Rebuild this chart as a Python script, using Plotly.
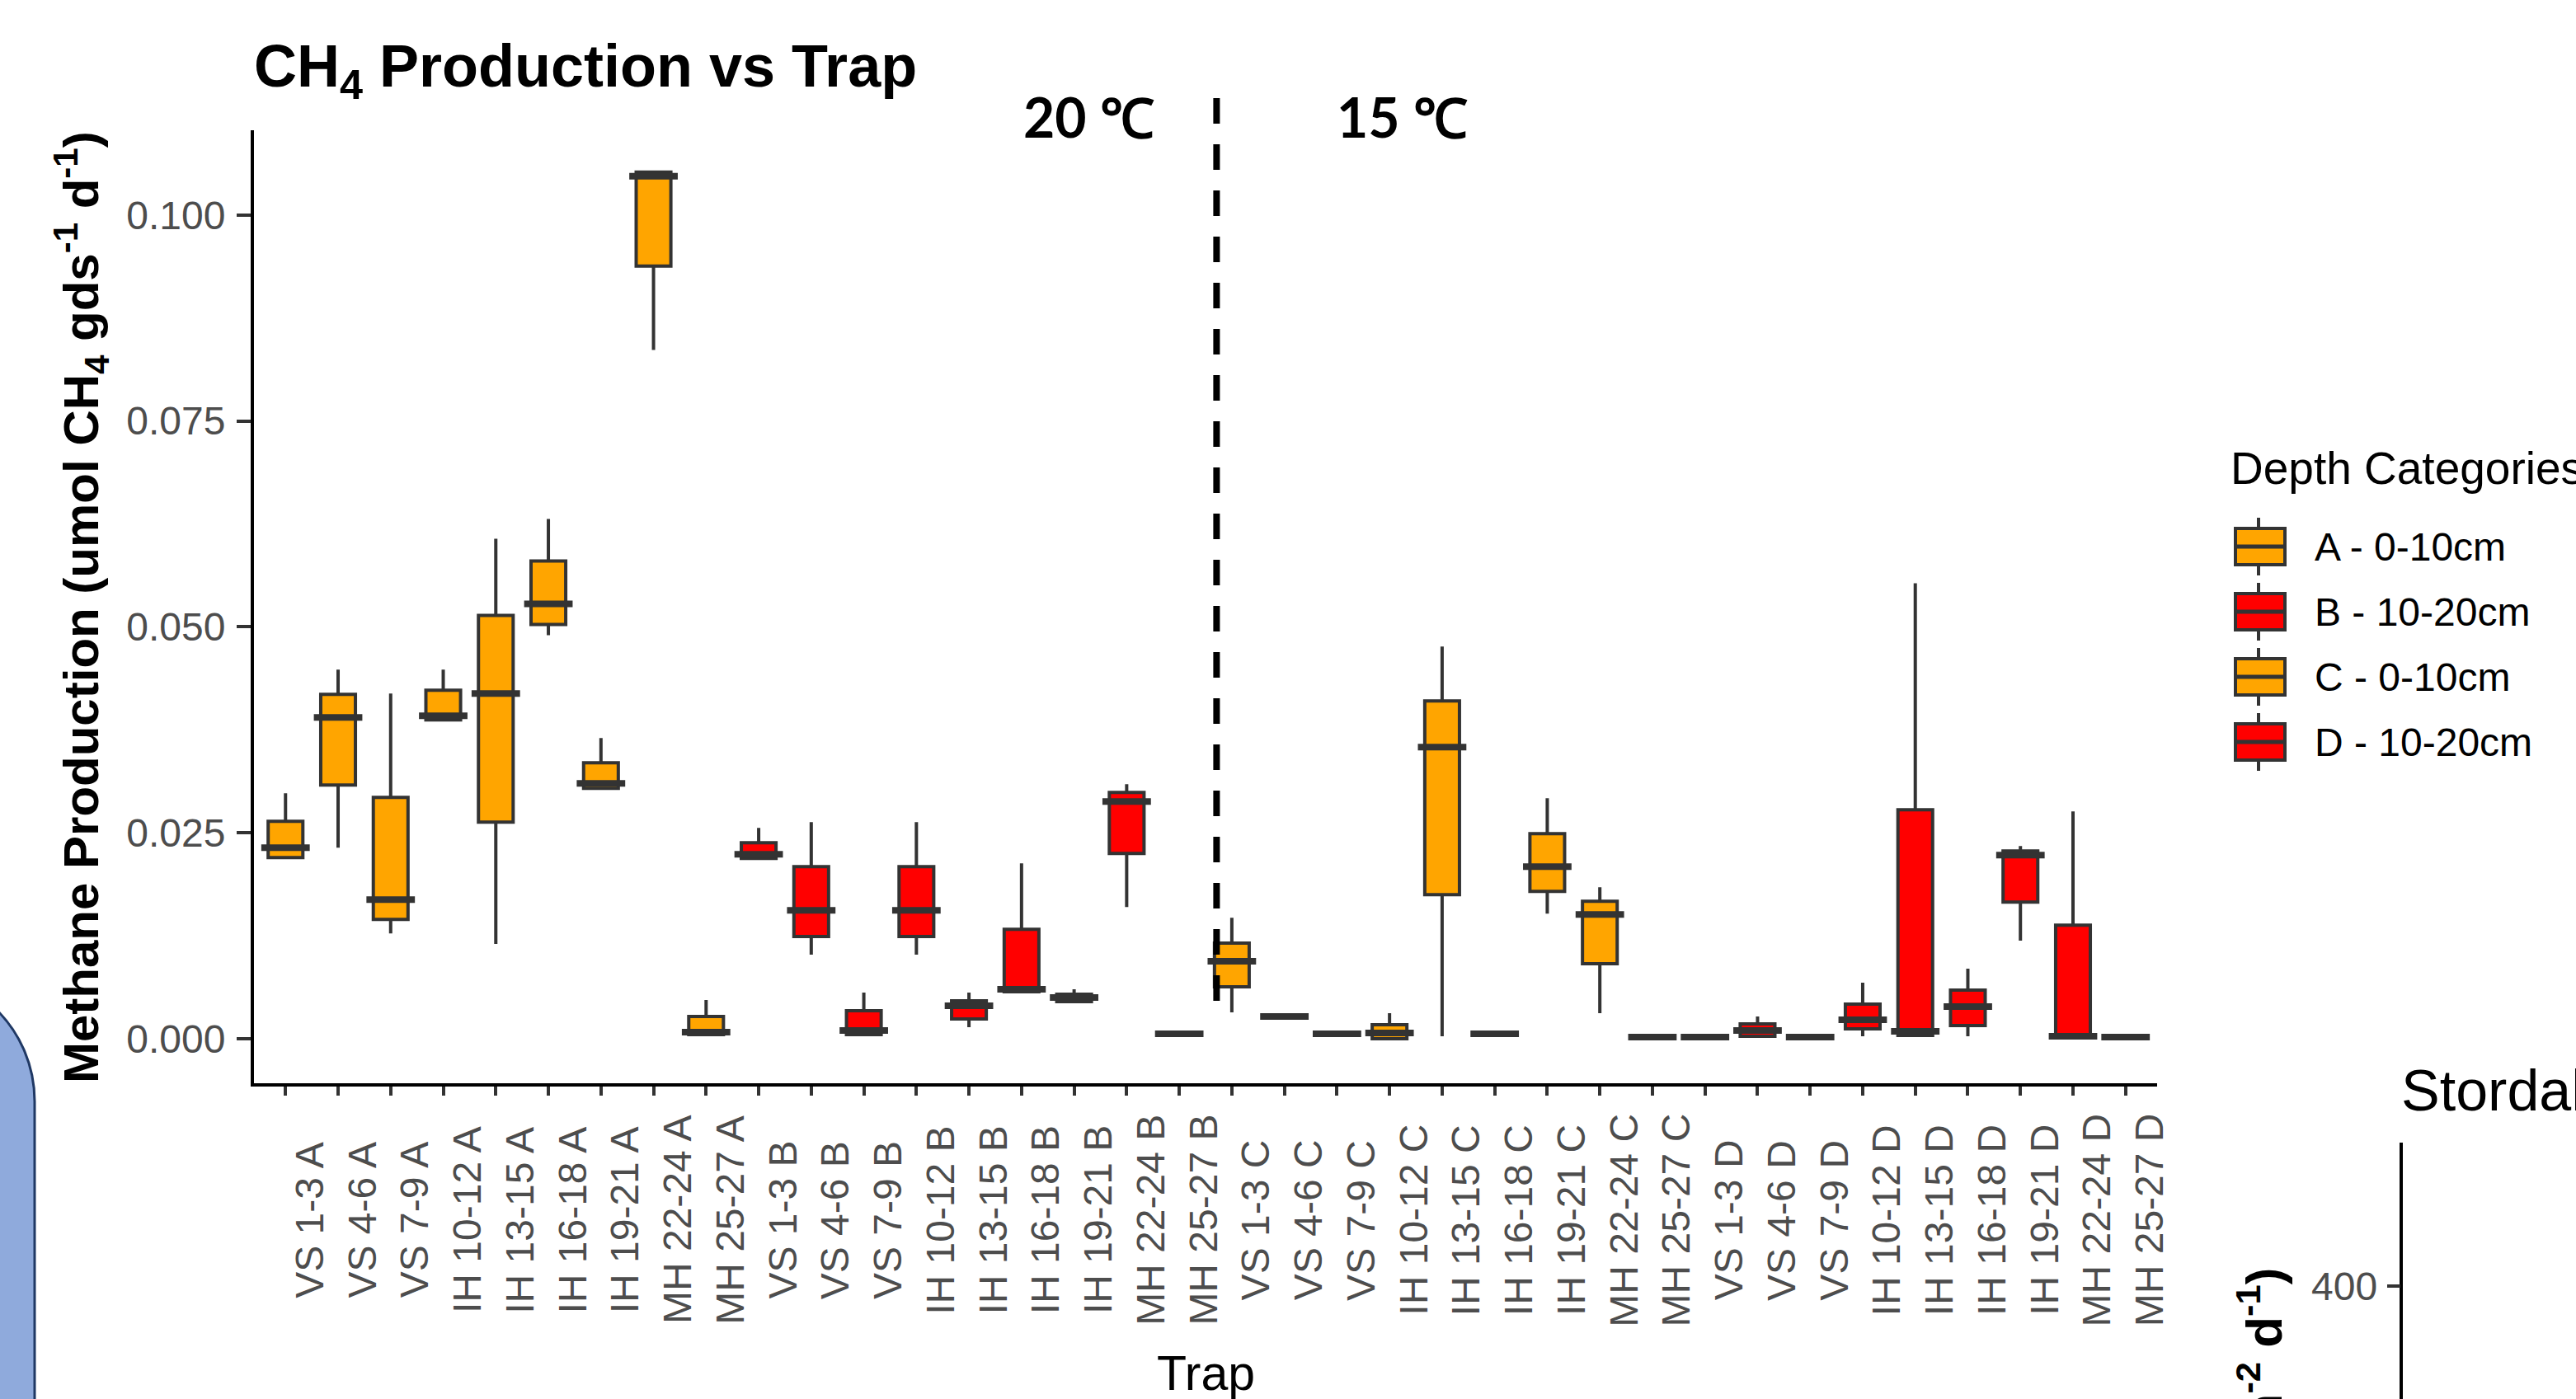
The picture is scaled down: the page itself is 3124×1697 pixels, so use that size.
import plotly.graph_objects as go

# ---------------- data (umol CH4 gds-1 d-1) ----------------
sites = ["VS 1-3", "VS 4-6", "VS 7-9", "IH 10-12", "IH 13-15",
         "IH 16-18", "IH 19-21", "MH 22-24", "MH 25-27"]
groups = ["A", "B", "C", "D"]
group_names = ["A - 0-10cm", "B - 10-20cm", "C - 0-10cm", "D - 10-20cm"]
group_colors = ["#FFA500", "#FF0000", "#FFA500", "#FF0000"]

A_min = [0.0220, 0.0232, 0.0128, 0.0387, 0.0115, 0.0490, 0.0304, 0.0836, 0.0005]
A_q1  = [0.0220, 0.0308, 0.0145, 0.0387, 0.0263, 0.0503, 0.0304, 0.0938, 0.0005]
A_med = [0.0232, 0.0390, 0.0169, 0.0392, 0.0419, 0.0528, 0.0310, 0.1047, 0.0008]
A_q3  = [0.0264, 0.0418, 0.0293, 0.0423, 0.0514, 0.0580, 0.0335, 0.1052, 0.0027]
A_max = [0.0298, 0.0448, 0.0419, 0.0448, 0.0607, 0.0631, 0.0365, 0.1052, 0.0047]

B_min = [0.0219, 0.0102, 0.0004, 0.0102, 0.0014, 0.0057, 0.0045, 0.0160, 0.0005]
B_q1  = [0.0219, 0.0124, 0.0005, 0.0124, 0.0024, 0.0057, 0.0045, 0.0225, 0.0005]
B_med = [0.0224, 0.0156, 0.0010, 0.0156, 0.0040, 0.0060, 0.0050, 0.0288, 0.0006]
B_q3  = [0.0238, 0.0209, 0.0034, 0.0209, 0.0046, 0.0133, 0.0054, 0.0299, 0.0007]
B_max = [0.0256, 0.0263, 0.0056, 0.0263, 0.0056, 0.0213, 0.0060, 0.0309, 0.0008]

C_min = [0.0032, 0.0026, 0.0005, 0.0000, 0.0003, 0.0005, 0.0152, 0.0031, 0.0001]
C_q1  = [0.0063, 0.0026, 0.0005, 0.0000, 0.0175, 0.0005, 0.0179, 0.0091, 0.0001]
C_med = [0.0094, 0.0027, 0.0006, 0.0007, 0.0354, 0.0006, 0.0209, 0.0151, 0.0002]
C_q3  = [0.0116, 0.0028, 0.0007, 0.0017, 0.0410, 0.0007, 0.0249, 0.0167, 0.0003]
C_max = [0.0147, 0.0028, 0.0007, 0.0031, 0.0476, 0.0007, 0.0292, 0.0184, 0.0003]

D_min = [0.0001, 0.0003, 0.0001, 0.0003, 0.0004, 0.0003, 0.0119, 0.0002, 0.0001]
D_q1  = [0.0001, 0.0003, 0.0001, 0.0012, 0.0004, 0.0016, 0.0166, 0.0002, 0.0001]
D_med = [0.0002, 0.0010, 0.0002, 0.0023, 0.0009, 0.0039, 0.0223, 0.0003, 0.0002]
D_q3  = [0.0004, 0.0018, 0.0003, 0.0042, 0.0278, 0.0059, 0.0228, 0.0138, 0.0003]
D_max = [0.0006, 0.0027, 0.0003, 0.0068, 0.0553, 0.0085, 0.0234, 0.0276, 0.0003]

stats = {
    "A": (A_min, A_q1, A_med, A_q3, A_max),
    "B": (B_min, B_q1, B_med, B_q3, B_max),
    "C": (C_min, C_q1, C_med, C_q3, C_max),
    "D": (D_min, D_q1, D_med, D_q3, D_max),
}

temp_labels = ["20 \u2103", "15 \u2103"]
divider_index = 17.71          # position of dashed separator (category index)
y_ticks = [0.000, 0.025, 0.050, 0.075, 0.100]

# ---------------- layout geometry (px) ----------------
W, H = 3124, 1697
PL, PR, PT, PB = 308, 2616, 158, 1314
XR = [-0.6, 35.6]
YR = [-0.0054, 0.11028]
FONT = "Liberation Sans"
DARK = "#333333"
GREY = "#4D4D4D"


def pxx(p):
    return (p - PL) / (PR - PL)


def pxy(p):
    return (PB - p) / (PB - PT)


categories = [f"{s} {g}" for g in groups for s in sites]

fig = go.Figure()
for g, name, col in zip(groups, group_names, group_colors):
    mn, q1, md, q3, mx = stats[g]
    xs = [f"{s} {g}" for s in sites]
    fig.add_trace(go.Box(
        x=xs, q1=q1, median=md, q3=q3, lowerfence=mn, upperfence=mx,
        name=name, fillcolor=col, line=dict(color=DARK, width=4),
        whiskerwidth=0, width=0.66, boxpoints=False, showlegend=False,
    ))
    # thicker median line (ggplot fatten = 2)
    fig.add_trace(go.Scatter(
        x=xs, y=md, mode="markers", showlegend=False, hoverinfo="skip",
        marker=dict(symbol="line-ew", size=42,
                    line=dict(color=DARK, width=8)),
    ))

ann = []
shapes = []

# rotated x tick labels (centred, like ggplot angle=90)
for c in categories:
    ann.append(dict(x=c, xref="x", y=pxy(1480), yref="paper", text=c,
                    textangle=-90, xanchor="left", yanchor="middle",
                    showarrow=False, font=dict(family=FONT, size=48, color=GREY)))

# axis titles
ann.append(dict(x=pxx(98), xref="paper", y=pxy(737), yref="paper",
                text="<b>Methane Production (umol CH<sub>4</sub> gds<sup>-1</sup> d<sup>-1</sup>)</b>",
                textangle=-90, showarrow=False, xanchor="center", yanchor="middle",
                font=dict(family=FONT, size=60, color="black")))
ann.append(dict(x=0.5, xref="paper", y=pxy(1666), yref="paper", text="Trap",
                showarrow=False, xanchor="center", yanchor="middle",
                font=dict(family=FONT, size=59, color="black")))

# temperature labels
for txt, cx in zip(temp_labels, [1320, 1700]):
    ann.append(dict(x=pxx(cx), xref="paper", y=pxy(141), yref="paper", text=f"<b>{txt}</b>",
                    showarrow=False, xanchor="center", yanchor="middle",
                    font=dict(family="Lato", size=66, color="black")))

# dashed separator
xd = (divider_index - XR[0]) / (XR[1] - XR[0])
shapes.append(dict(type="line", xref="paper", yref="paper", x0=xd, x1=xd,
                   y0=pxy(119), y1=pxy(1215),
                   line=dict(color="black", width=8, dash="31px,25px")))

# custom legend (ggplot style box keys)
ann.append(dict(x=pxx(2703), xref="paper", y=pxy(568), yref="paper",
                text="Depth Categories", showarrow=False, xanchor="left", yanchor="middle",
                font=dict(family=FONT, size=55, color="black")))
for i, (name, col) in enumerate(zip(group_names, group_colors)):
    cy = 663 + i * 79
    shapes.append(dict(type="line", xref="paper", yref="paper",
                       x0=pxx(2739), x1=pxx(2739), y0=pxy(cy - 35), y1=pxy(cy + 35),
                       line=dict(color=DARK, width=4)))
    shapes.append(dict(type="rect", xref="paper", yref="paper",
                       x0=pxx(2711), x1=pxx(2771), y0=pxy(cy - 22), y1=pxy(cy + 22),
                       fillcolor=col, line=dict(color=DARK, width=4)))
    shapes.append(dict(type="line", xref="paper", yref="paper",
                       x0=pxx(2711), x1=pxx(2771), y0=pxy(cy), y1=pxy(cy),
                       line=dict(color=DARK, width=5)))
    ann.append(dict(x=pxx(2805), xref="paper", y=pxy(cy), yref="paper", text=name,
                    showarrow=False, xanchor="left", yanchor="middle",
                    font=dict(family=FONT, size=48, color="black")))

# slide background elements (neighbouring chart + shape)
ann.append(dict(x=pxx(2910), xref="paper", y=pxy(1323), yref="paper", text="Stordalen",
                showarrow=False, xanchor="left", yanchor="middle",
                font=dict(family=FONT, size=70, color="black")))
shapes.append(dict(type="line", xref="paper", yref="paper",
                   x0=pxx(2912), x1=pxx(2912), y0=pxy(1386), y1=pxy(1760),
                   line=dict(color="black", width=4)))
shapes.append(dict(type="line", xref="paper", yref="paper",
                   x0=pxx(2895), x1=pxx(2911), y0=pxy(1560), y1=pxy(1560),
                   line=dict(color=DARK, width=4)))
ann.append(dict(x=pxx(2885), xref="paper", y=pxy(1560), yref="paper", text="400",
                showarrow=False, xanchor="right", yanchor="middle",
                font=dict(family=FONT, size=48, color=GREY)))
ann.append(dict(x=pxx(2745), xref="paper", y=pxy(1536), yref="paper",
                text="<b>Methane Flux (umol CH<sub>4</sub> m<sup>-2</sup> d<sup>-1</sup>)</b>",
                textangle=-90, showarrow=False, xanchor="center", yanchor="top",
                font=dict(family=FONT, size=62, color="black")))


def P(x, y):
    return f"{pxx(x):.5f},{pxy(y):.5f}"


blue_path = (f"M{P(-300, 1179)} L{P(-115, 1179)} "
             f"C{P(-28.3, 1179)} {P(42, 1249.3)} {P(42, 1336)} "
             f"L{P(42, 1760)} L{P(-300, 1760)} Z")
shapes.append(dict(type="path", xref="paper", yref="paper", path=blue_path,
                   fillcolor="#8FAADC", line=dict(color="#1F3864", width=3), layer="below"))

fig.update_layout(
    width=W, height=H,
    margin=dict(l=PL, r=W - PR, t=PT, b=H - PB, autoexpand=False),
    paper_bgcolor="white", plot_bgcolor="white",
    font=dict(family=FONT, color="black"),
    boxmode="overlay",
    showlegend=False,
    title=dict(text="<b>CH<sub>4</sub> Production vs Trap</b>",
               x=0, xref="paper", xanchor="left",
               y=1 - 80 / H, yref="container", yanchor="middle",
               font=dict(family=FONT, size=72, color="black")),
    xaxis=dict(type="category", categoryorder="array", categoryarray=categories,
               range=XR, showgrid=False, zeroline=False,
               showline=True, linecolor="black", linewidth=4,
               ticks="outside", ticklen=11, tickwidth=4, tickcolor=DARK,
               showticklabels=False),
    yaxis=dict(range=YR, showgrid=False, zeroline=False,
               tickvals=y_ticks, ticktext=[f"{v:.3f}" for v in y_ticks],
               showline=True, linecolor="black", linewidth=4,
               ticks="outside", ticklen=17, tickwidth=4, tickcolor=DARK,
               ticklabelstandoff=4,
               tickfont=dict(family=FONT, size=48, color=GREY)),
    annotations=ann,
    shapes=shapes,
)

fig.write_html("out.html")
